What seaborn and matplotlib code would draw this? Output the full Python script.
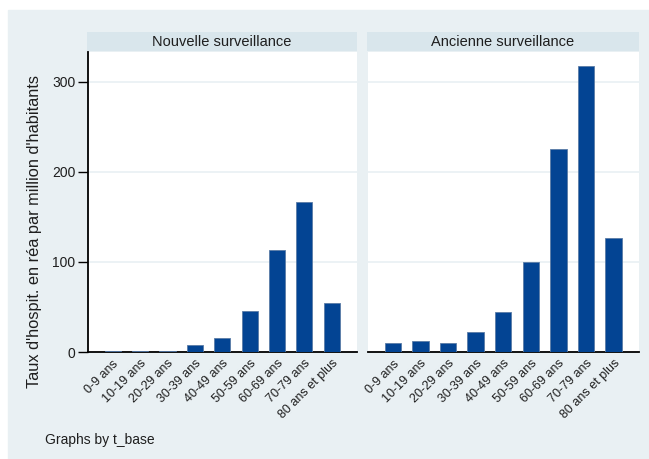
import matplotlib
matplotlib.use("Agg")
import matplotlib.pyplot as plt
from matplotlib.patches import Rectangle
import seaborn as sns
import pandas as pd

# Données (taux d'hospitalisation en réa par million d'habitants)
classes_age = ['0-9 ans', '10-19 ans', '20-29 ans', '30-39 ans', '40-49 ans',
               '50-59 ans', '60-69 ans', '70-79 ans', '80 ans et plus']
nouvelle = [1, 1, 1, 7.5, 15, 46, 113, 167, 54]
ancienne = [10.5, 12, 10.5, 22, 44, 100, 225, 318, 127]
panneaux = ['Nouvelle surveillance', 'Ancienne surveillance']

FOND = '#E9F0F3'
BANDEAU = '#D9E6EC'
BARRE = '#034493'
TEXTE = '#1E1E1E'

sns.set_style("white")
plt.rcParams['font.family'] = ['Liberation Sans', 'DejaVu Sans']

W, H = 649, 459
fig = plt.figure(figsize=(W / 100, H / 100), dpi=100)
fig.patch.set_facecolor('white')
fig.patches.append(Rectangle((8 / W, 0), 1 - 8 / W, (H - 10) / H,
                             transform=fig.transFigure, color=FOND, zorder=-10))


def px_axes(x0, y0, x1, y1):
    # coordonnées en pixels depuis le coin haut-gauche
    return [x0 / W, 1 - y1 / H, (x1 - x0) / W, (y1 - y0) / H]


positions = [(88, 357), (368, 639)]
donnees = [nouvelle, ancienne]

for i, (titre, vals) in enumerate(zip(panneaux, donnees)):
    x0, x1 = positions[i]
    df = pd.DataFrame({'age': classes_age, 'taux': vals})
    ax = fig.add_axes(px_axes(x0, 52, x1, 352))
    ax.set_facecolor('white')
    sns.barplot(data=df, x='age', y='taux', ax=ax, color=BARRE, width=0.59,
                edgecolor='#5A7BA6', linewidth=0.6, saturation=1, zorder=3)
    ax.set_xlim(-0.9, 8.92)
    ax.set_ylim(0, 333)
    ax.set_yticks([0, 100, 200, 300])
    for y in [100, 200, 300]:
        ax.axhline(y, color=FOND, linewidth=1.2, zorder=1)
    for s in ['top', 'right']:
        ax.spines[s].set_visible(False)
    ax.spines['bottom'].set_color('black')
    ax.spines['bottom'].set_linewidth(1.3)
    ax.set_xlabel('')
    ax.set_ylabel('')
    ax.set_xticks(range(len(classes_age)))
    ax.set_xticklabels(classes_age, rotation=45, ha='right', rotation_mode='anchor',
                       fontsize=9, color=TEXTE)
    ax.tick_params(axis='x', length=0, pad=4)
    if i == 0:
        ax.spines['left'].set_color('black')
        ax.spines['left'].set_linewidth(1.3)
        ax.tick_params(axis='y', length=7, width=1, color='black', left=True,
                       labelsize=10, pad=2, labelcolor=TEXTE)
    else:
        ax.spines['left'].set_visible(False)
        ax.tick_params(axis='y', left=False, labelleft=False)

    # bandeau du titre de panneau
    axs = fig.add_axes(px_axes(x0 - 1, 32, x1, 51))
    axs.set_facecolor(BANDEAU)
    axs.set_xticks([])
    axs.set_yticks([])
    for s in axs.spines.values():
        s.set_visible(False)
    axs.text(0.5, 0.5, titre, ha='center', va='center', fontsize=10.5,
             color=TEXTE, transform=axs.transAxes)

fig.text(35 / W, 1 - 232 / H, "Taux d'hospit. en réa par million d'habitants",
         rotation=90, ha='center', va='center', fontsize=11.8, color=TEXTE)
fig.text(45 / W, 1 - 440 / H, 'Graphs by t_base', fontsize=10, color=TEXTE,
         va='center', ha='left')

plt.savefig('out.png', dpi=100, facecolor=fig.get_facecolor())
plt.close()
